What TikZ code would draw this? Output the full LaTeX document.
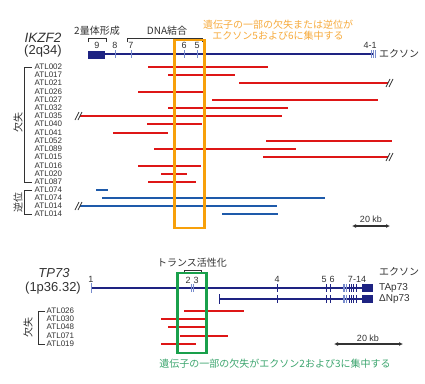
\documentclass[tikz,border=0pt]{standalone}
\usepackage{fontspec}
\setmainfont{Liberation Sans}
\newfontfamily\jp{Noto Sans CJK JP}
\usetikzlibrary{arrows.meta}
\definecolor{navy}{RGB}{30,35,130}
\definecolor{tickc}{RGB}{120,140,205}
\definecolor{delred}{RGB}{222,22,22}
\definecolor{invblue}{RGB}{30,90,170}
\definecolor{orangebox}{RGB}{247,160,10}
\definecolor{orangetxt}{RGB}{246,170,60}
\definecolor{greenbox}{RGB}{25,160,75}
\definecolor{greentxt}{RGB}{60,165,110}
\definecolor{txt}{RGB}{50,50,50}
\tikzset{
  x=1pt, y=-1pt,
  gene/.style={draw=navy, line width=1.8pt},
  exbox/.style={fill=navy, draw=none},
  extick/.style={draw=tickc, line width=1pt},
  dtick/.style={draw=navy, line width=1pt},
  del/.style={draw=delred, line width=2.3pt},
  inv/.style={draw=invblue, line width=2.3pt},
  brk/.style={draw=txt, line width=0.7pt},
  brace/.style={draw=txt, line width=0.8pt},
  atl/.style={anchor=west, inner sep=0pt, font=\fontsize{8}{8}\selectfont, text=txt},
  exn/.style={inner sep=0pt, font=\fontsize{9}{9}\selectfont, text=txt},
  jtxt/.style={inner sep=0pt, font=\jp\fontsize{10}{11}\selectfont, text=txt},
  scalebar/.style={draw=txt, line width=1.2pt, {Latex[length=4pt,width=4pt]}-{Latex[length=4pt,width=4pt]}},
}
\begin{document}
\begin{tikzpicture}
\useasboundingbox (0,0) rectangle (425,383);
% ================= IKZF2 =================
\node[inner sep=0pt, font=\itshape\fontsize{13.5}{14}\selectfont, text=txt] (ikzf) at (43,38) {IKZF2};
\node[inner sep=0pt, font=\fontsize{13}{14}\selectfont, text=txt] (ikzfloc) at (43,51) {(2q34)};
% gene line
\coordinate (gA) at (88,54);
\coordinate (gB) at (374,54);
\draw[gene] (gA) -- (gB);
\fill[exbox] (88,50.5) rectangle (105,58.5);
\foreach \x in {115,131,184,197,371,373,375} \draw[extick] (\x,50) -- (\x,58);
% exon labels
\node[exn] (e9) at (97,45) {9};
\node[exn] (e8) at (115,45) {8};
\node[exn] (e7) at (131,45) {7};
\node[exn] (e6) at (184,45) {6};
\node[exn] (e5) at (197,45) {5};
\node[exn] (e41) at (370,45) {4-1};
\node[jtxt, anchor=west] (exonA) at (379,54) {エクソン};
% domain braces
\draw[brace] (88,42) -- (88,38) -- (106,38) -- (106,42);
\node[jtxt] (dimer) at (97,31) {2量体形成};
\draw[brace] (127,42) -- (127,38) -- (202,38) -- (202,42);
\node[jtxt] (dnab) at (167,31) {DNA結合};
% orange note
\node[jtxt, text=orangetxt, align=center] (onote) at (278,30) {遺伝子の一部の欠失または逆位が\\エクソン5および6に集中する};
% deletion lines
\foreach \a/\b/\y in {148/268/67, 168/235/75, 239/388/83, 138/203/92, 212/378/100, 168/288/108, 80/282/116, 147/202/124, 113/168/133, 266/392/141, 154/296/149, 263/388/157, 138/201/166, 161/187/174, 148/196/182}
  \draw[del] (\a,\y) -- (\b,\y);
% inversion lines
\foreach \a/\b/\y in {96/108/190, 102/325/198, 80/277/206, 222/278/214}
  \draw[inv] (\a,\y) -- (\b,\y);
% break marks
\foreach \x/\y in {78/116, 78/206, 389/83, 389/157} {
  \draw[brk] (\x-3,\y+4) -- (\x+1,\y-4);
  \draw[brk] (\x,\y+4) -- (\x+4,\y-4);
}
% labels
\foreach \n/\y in {ATL002/67, ATL017/75, ATL021/83, ATL026/92, ATL027/100, ATL032/108, ATL035/116, ATL040/124, ATL041/133, ATL052/141, ATL089/149, ATL015/157, ATL016/166, ATL020/174, ATL087/182}
  \node[atl] (t\n\y) at (34.5,\y) {\n};
\foreach \n/\y in {ATL074/190, ATL074/198, ATL014/206, ATL014/214}
  \node[atl] (t\n\y) at (34.5,\y) {\n};
\draw[brace] (32,67) -- (24,67) -- (24,182) -- (32,182);
\node[jtxt, rotate=90] (delA) at (18,122) {欠失};
\draw[brace] (32,190) -- (24,190) -- (24,214) -- (32,214);
\node[jtxt, rotate=90] (invA) at (18,202) {逆位};
% orange box
\draw[draw=orangebox, line width=2.8pt] (174.5,40) rectangle (204.5,228);
% scale bar
\coordinate (sa1) at (352,226);
\coordinate (sa2) at (390,226);
\draw[scalebar] (sa1) -- (sa2);
\node[inner sep=0pt, font=\fontsize{9}{10}\selectfont, text=txt] (sl1) at (371,219) {20 kb};
% ================= TP73 =================
\node[inner sep=0pt, font=\itshape\fontsize{13}{14}\selectfont, text=txt] (tp) at (54,273) {TP73};
\node[inner sep=0pt, font=\fontsize{13}{14}\selectfont, text=txt] (tploc) at (53,288) {(1p36.32)};
\coordinate (tA) at (91,288);
\coordinate (tB) at (363,288);
\draw[gene] (tA) -- (tB);
\draw[extick] (91,283) -- (91,293);
\coordinate (dA) at (219,299);
\coordinate (dB) at (363,299);
\draw[gene] (dA) -- (dB);
\draw[dtick] (219,294) -- (219,304);
\fill[exbox] (362,284) rectangle (373,292);
\fill[exbox] (362,295) rectangle (373,303);
\foreach \x in {191,193} \draw[extick] (\x,284) -- (\x,292);
\foreach \x in {277,326,330,349,351,353,356} {
  \draw[dtick] (\x,284) -- (\x,292);
  \draw[dtick] (\x,295) -- (\x,303);
}
\foreach \x in {343,344.5,346} {
  \draw[extick] (\x,284) -- (\x,292);
  \draw[extick] (\x,295) -- (\x,303);
}
\node[exn] (t1) at (91,279) {1};
\node[exn] (t2) at (188,280) {2};
\node[exn] (t3) at (196,280) {3};
\node[exn] (t4) at (277,279) {4};
\node[exn] (t5) at (324,279) {5};
\node[exn] (t6) at (332,279) {6};
\node[exn] (t714) at (357,279) {7-14};
\node[jtxt, anchor=west] (exonB) at (379,272) {エクソン};
\node[anchor=west, inner sep=0pt, font=\fontsize{10}{11}\selectfont, text=txt] (tap) at (379,288) {TAp73};
\node[anchor=west, inner sep=0pt, font=\fontsize{10}{11}\selectfont, text=txt] (dnp) at (379,299) {ΔNp73};
\draw[brace] (184,273) -- (184,270) -- (201,270) -- (201,273);
\node[jtxt] (trans) at (192,263) {トランス活性化};
% deletions
\foreach \a/\b/\y in {184/244/311, 161/206/319, 168/205/327, 180/228/336, 161/196/344}
  \draw[del] (\a,\y) -- (\b,\y);
\foreach \n/\y in {ATL026/311, ATL030/319, ATL048/327, ATL071/336, ATL019/344}
  \node[atl] (b\n) at (46.5,\y) {\n};
\draw[brace] (45,311) -- (38,311) -- (38,344) -- (45,344);
\node[jtxt, rotate=90] (delB) at (28,327) {欠失};
% green box
\draw[draw=greenbox, line width=2.8pt] (177.5,273) rectangle (206.5,353);
\node[jtxt, text=greentxt] (gnote) at (275,364) {遺伝子の一部の欠失がエクソン2および3に集中する};
% scale bar
\coordinate (sb1) at (334,344);
\coordinate (sb2) at (403,344);
\draw[scalebar] (sb1) -- (sb2);
\node[inner sep=0pt, font=\fontsize{9}{10}\selectfont, text=txt] (sl2) at (368,338) {20 kb};
\end{tikzpicture}
\end{document}
